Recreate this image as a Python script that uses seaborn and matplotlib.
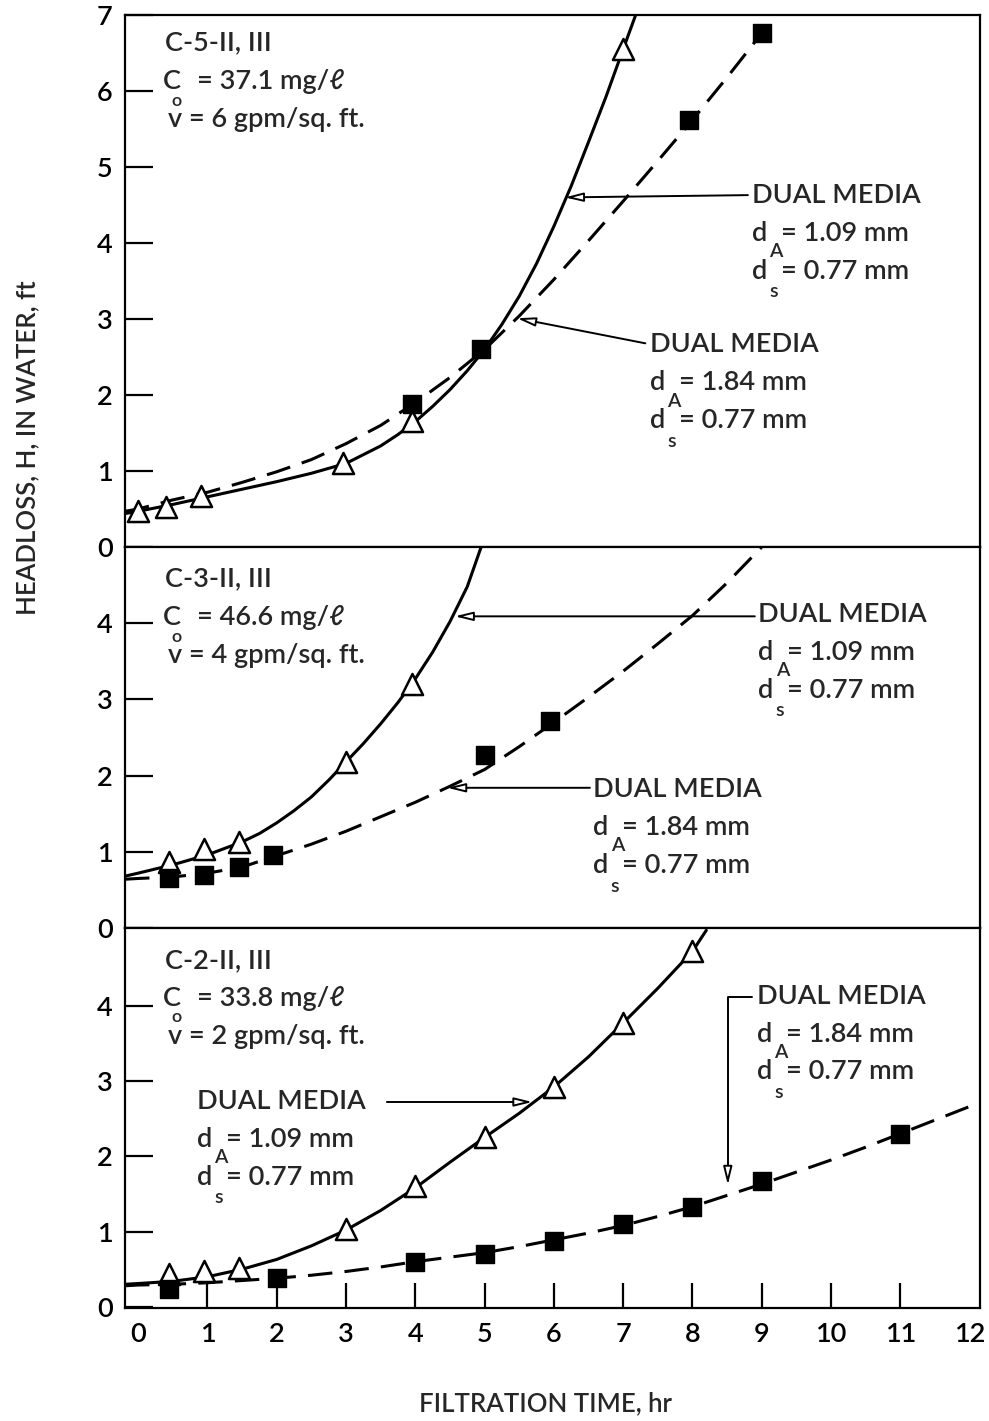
import matplotlib
matplotlib.use("Agg")
import matplotlib.pyplot as plt
import seaborn as sns

# ---------------- data ----------------
hours_ticks = list(range(0, 13))

# Run C-5-II, III  (v = 6 gpm/sq. ft.)
c5_tri_x = [0.0, 0.4, 0.9, 2.95, 3.95, 7.0]
c5_tri_y = [0.47, 0.53, 0.67, 1.10, 1.66, 6.55]
c5_sq_x = [3.95, 4.95, 7.95, 9.0]
c5_sq_y = [1.88, 2.60, 5.62, 6.76]
c5_fine_x = [-0.19, 0, 0.5, 1, 1.5, 2, 2.5, 3, 3.5, 3.75, 4, 4.25, 4.5, 4.75, 5,
             5.25, 5.5, 5.75, 6, 6.25, 6.5, 6.75, 7, 7.18]
c5_fine_y = [0.44, 0.47, 0.56, 0.66, 0.76, 0.86, 0.97, 1.10, 1.33, 1.48, 1.65, 1.85,
             2.07, 2.32, 2.60, 2.93, 3.30, 3.73, 4.22, 4.75, 5.33, 5.92, 6.55, 7.0]
c5_coarse_x = [-0.19, 0, 0.5, 1, 1.5, 2, 2.5, 3, 3.5, 4, 4.5, 5, 5.5, 6, 6.5, 7, 7.5, 8, 8.5, 9, 9.2]
c5_coarse_y = [0.47, 0.50, 0.62, 0.72, 0.85, 0.99, 1.15, 1.36, 1.60, 1.90, 2.23, 2.60, 3.04, 3.52, 4.03, 4.55, 5.08, 5.62, 6.18, 6.76, 7.0]

# Run C-3-II, III  (v = 4 gpm/sq. ft.)
c3_tri_x = [0.45, 0.95, 1.45, 3.0, 3.95]
c3_tri_y = [0.87, 1.04, 1.13, 2.18, 3.20]
c3_sq_x = [0.45, 0.95, 1.45, 1.95, 5.0, 5.95]
c3_sq_y = [0.66, 0.70, 0.80, 0.96, 2.27, 2.71]
c3_fine_x = [-0.19, 0, 0.5, 1, 1.5, 1.75, 2, 2.25, 2.5, 2.75, 3, 3.25, 3.5, 3.75,
             4, 4.25, 4.5, 4.75, 4.95]
c3_fine_y = [0.68, 0.72, 0.83, 0.96, 1.13, 1.24, 1.38, 1.54, 1.72, 1.94, 2.18, 2.42,
             2.68, 2.96, 3.27, 3.62, 4.02, 4.48, 5.0]
c3_coarse_x = [-0.19, 0, 0.5, 1, 1.5, 2, 2.5, 3, 3.5, 4, 4.5, 5, 5.5, 6, 6.5, 7, 7.5, 8, 8.5, 9.0]
c3_coarse_y = [0.64, 0.65, 0.67, 0.72, 0.80, 0.95, 1.10, 1.27, 1.46, 1.65, 1.86, 2.08, 2.38, 2.70, 3.03, 3.37, 3.73, 4.10, 4.53, 5.0]

# Run C-2-II, III  (v = 2 gpm/sq. ft.)
c2_tri_x = [0.45, 0.95, 1.45, 3.0, 4.0, 5.0, 6.0, 7.0, 8.0]
c2_tri_y = [0.44, 0.47, 0.52, 1.03, 1.60, 2.25, 2.92, 3.77, 4.72]
c2_sq_x = [0.45, 2.0, 4.0, 5.0, 6.0, 7.0, 8.0, 9.0, 11.0]
c2_sq_y = [0.24, 0.38, 0.60, 0.70, 0.88, 1.10, 1.33, 1.67, 2.30]
c2_fine_x = [-0.19, 0, 0.5, 1, 1.5, 2, 2.5, 3, 3.5, 4, 4.5, 5, 5.5, 6, 6.5, 7, 7.5, 8, 8.2]
c2_fine_y = [0.30, 0.31, 0.34, 0.40, 0.50, 0.63, 0.81, 1.02, 1.28, 1.58, 1.92, 2.25, 2.57, 2.92, 3.32, 3.77, 4.23, 4.72, 5.0]
c2_coarse_x = [-0.19, 0, 0.5, 1, 1.5, 2, 2.5, 3, 3.5, 4, 4.5, 5, 5.5, 6, 6.5, 7, 7.5, 8, 8.5, 9, 9.5, 10, 10.5, 11, 11.5, 12, 12.15]
c2_coarse_y = [0.28, 0.29, 0.30, 0.32, 0.35, 0.38, 0.42, 0.47, 0.53, 0.60, 0.66, 0.72, 0.80, 0.89, 0.98, 1.08, 1.20, 1.33, 1.48, 1.63, 1.79, 1.95, 2.12, 2.30, 2.48, 2.66, 2.71]

top_yticks = [0, 1, 2, 3, 4, 5, 6, 7]
mid_yticks = [0, 1, 2, 3, 4]
bot_yticks = [0, 1, 2, 3, 4]

# ---------------- style ----------------
sns.set_theme(style="ticks")
FONT = ["Lato", "DejaVu Sans"]
plt.rcParams["font.family"] = FONT
plt.rcParams["font.weight"] = "semibold"
plt.rcParams["axes.linewidth"] = 1.6
plt.rcParams["axes.edgecolor"] = "black"

FS = 19.5
FS_SUB = 14
LW = 2.2
DASH = (0, (8, 4))

fig = plt.figure(figsize=(9.89, 14.21), dpi=100)
left, width = 0.1264, 0.8645
ax_top = fig.add_axes([left, 0.61506, width, 0.37438])
ax_mid = fig.add_axes([left, 0.34694, width, 0.26812])
ax_bot = fig.add_axes([left, 0.07952, width, 0.26742])


def draw_run(ax, fx, fy, cx, cy, tx, ty, sx, sy):
    sns.lineplot(x=fx, y=fy, ax=ax, color="black", lw=LW, zorder=2)
    sns.lineplot(x=cx, y=cy, ax=ax, color="black", lw=LW, linestyle=DASH, zorder=2)
    sns.scatterplot(x=tx, y=ty, ax=ax, marker="^", s=230, color="white",
                    edgecolor="black", linewidth=1.8, zorder=3)
    sns.scatterplot(x=sx, y=sy, ax=ax, marker="s", s=170, color="black",
                    edgecolor="black", linewidth=1.0, zorder=4)


def condition_block(ax, x0, y0, run, conc, vel):
    ax.text(x0, y0, run, fontsize=FS, ha="left", va="center")
    ax.text(x0 - 0.03, y0 - 0.51, "C", fontsize=FS, ha="left", va="center")
    ax.text(x0 + 0.46, y0 - 0.51, f"= {conc} mg/\u2113", fontsize=FS, ha="left", va="center")
    ax.text(x0 + 0.09, y0 - 0.755, "o", fontsize=13, ha="left", va="center")
    ax.text(x0 + 0.04, y0 - 1.01, f"v = {vel} gpm/sq. ft.", fontsize=FS, ha="left", va="center")


def media_block(ax, x0, y0, da):
    ax.text(x0, y0, "DUAL MEDIA", fontsize=FS, ha="left", va="center")
    ax.text(x0, y0 - 0.5, "d", fontsize=FS, ha="left", va="center")
    ax.text(x0 + 0.25, y0 - 0.74, "A", fontsize=FS_SUB, ha="left", va="center")
    ax.text(x0 + 0.42, y0 - 0.5, f"= {da} mm", fontsize=FS, ha="left", va="center")
    ax.text(x0, y0 - 1.0, "d", fontsize=FS, ha="left", va="center")
    ax.text(x0 + 0.25, y0 - 1.27, "s", fontsize=FS_SUB, ha="left", va="center")
    ax.text(x0 + 0.42, y0 - 1.0, "= 0.77 mm", fontsize=FS, ha="left", va="center")


ARROW = dict(arrowstyle="-|>,head_length=0.9,head_width=0.22", color="black",
             lw=1.4, fc="white", shrinkA=0, shrinkB=0)


def pointer(ax, head, tail, **extra):
    props = dict(ARROW)
    props.update(extra)
    ax.annotate("", xy=head, xytext=tail, arrowprops=props)


# ---------------- panels ----------------
draw_run(ax_top, c5_fine_x, c5_fine_y, c5_coarse_x, c5_coarse_y,
         c5_tri_x, c5_tri_y, c5_sq_x, c5_sq_y)
condition_block(ax_top, 0.39, 6.63, "C-5-II, III", "37.1", "6")
media_block(ax_top, 8.86, 4.63, "1.09")
pointer(ax_top, (6.16, 4.60), (8.80, 4.63))
media_block(ax_top, 7.39, 2.66, "1.84")
pointer(ax_top, (5.47, 3.01), (7.32, 2.68))

draw_run(ax_mid, c3_fine_x, c3_fine_y, c3_coarse_x, c3_coarse_y,
         c3_tri_x, c3_tri_y, c3_sq_x, c3_sq_y)
condition_block(ax_mid, 0.39, 4.58, "C-3-II, III", "46.6", "4")
media_block(ax_mid, 8.95, 4.12, "1.09")
pointer(ax_mid, (4.57, 4.09), (8.90, 4.09))
media_block(ax_mid, 6.57, 1.82, "1.84")
pointer(ax_mid, (4.46, 1.84), (6.52, 1.84))

draw_run(ax_bot, c2_fine_x, c2_fine_y, c2_coarse_x, c2_coarse_y,
         c2_tri_x, c2_tri_y, c2_sq_x, c2_sq_y)
condition_block(ax_bot, 0.39, 4.60, "C-2-II, III", "33.8", "2")
media_block(ax_bot, 0.85, 2.72, "1.09")
pointer(ax_bot, (5.69, 2.72), (3.59, 2.72))
media_block(ax_bot, 8.93, 4.12, "1.84")
pointer(ax_bot, (8.51, 1.62), (8.86, 4.12),
        connectionstyle="angle,angleA=0,angleB=90,rad=0")

# ---------------- axes ----------------
for ax, ylim, yt in ((ax_top, (0, 7), top_yticks),
                     (ax_mid, (0, 5), mid_yticks),
                     (ax_bot, (-0.015, 5.03), bot_yticks)):
    ax.set_xlim(-0.19, 12.15)
    ax.set_ylim(*ylim)
    ax.set_yticks(yt)
    ax.set_yticklabels([str(v) for v in yt], fontsize=FS)
    ax.tick_params(axis="y", direction="in", length=20, width=1.6, pad=9,
                   colors="black")
    ax.set_xlabel("")
    ax.set_ylabel("")
    for sp in ax.spines.values():
        sp.set_visible(True)
        sp.set_color("black")
        sp.set_linewidth(1.6)

for ax in (ax_top, ax_mid):
    ax.set_xticks([])

ax_bot.set_xticks(hours_ticks)
ax_bot.set_xticklabels([str(v) for v in hours_ticks], fontsize=FS)
ax_bot.tick_params(axis="x", direction="in", length=18, width=1.6, pad=10,
                   colors="black")
# the end ticks sit on the frame, so only the inner ones are drawn
xt = ax_bot.xaxis.get_major_ticks()
for t in (xt[0], xt[-1]):
    t.tick1line.set_visible(False)
    t.tick2line.set_visible(False)

fig.text(0.028, 0.685, "HEADLOSS, H, IN WATER, ft", rotation=90,
         fontsize=18.5, ha="center", va="center")
fig.text(0.551, 0.012, "FILTRATION TIME, hr", fontsize=18.5,
         ha="center", va="center")

fig.savefig("out.png", dpi=100, facecolor="white")
